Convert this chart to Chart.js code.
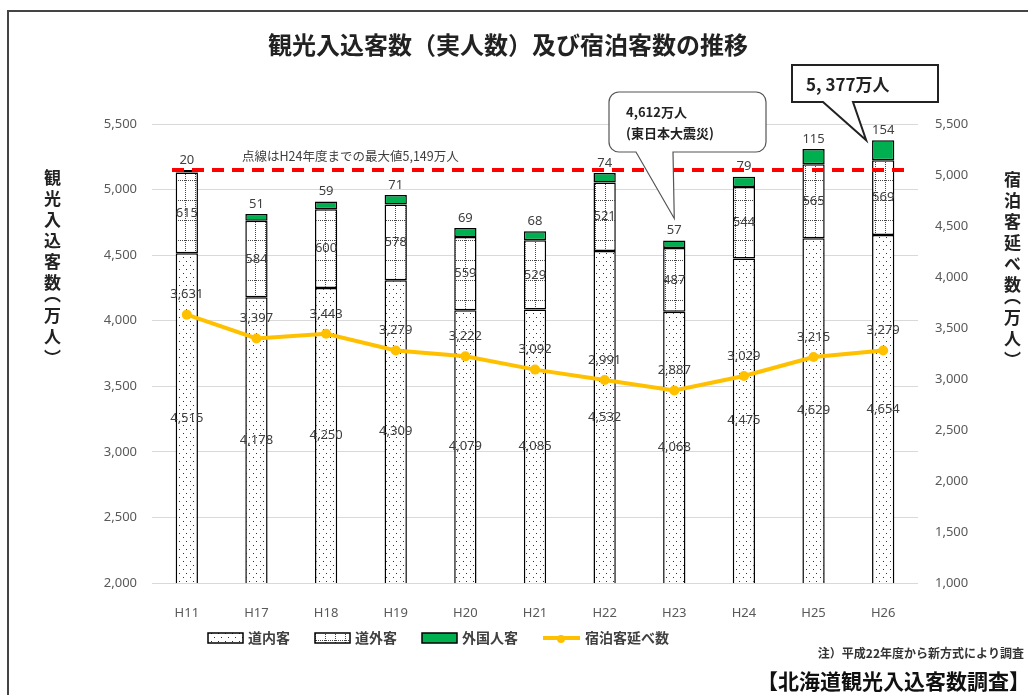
<!DOCTYPE html>
<html lang="ja">
<head>
<meta charset="UTF-8">
<title>観光入込客数（実人数）及び宿泊客数の推移</title>
<script src="https://cdn.jsdelivr.net/npm/chart.js"></script>
<style>
  * { margin: 0; padding: 0; box-sizing: border-box; }
  body { background: #fff; width: 1028px; height: 695px; overflow: hidden; font-family: 'Noto Sans CJK JP', sans-serif; }
  .wrap { position: relative; width: 1028px; height: 695px; }
  #chart { position: absolute; left: 0; top: 0; }
  .vtitle {
    position: absolute;
    writing-mode: vertical-rl;
    font-weight: bold;
    font-size: 17px;
    line-height: 1;
    color: #222;
    letter-spacing: 4px;
    font-feature-settings: "vhal";
  }
</style>
</head>
<body>
<div class="wrap">
  <canvas id="chart" width="1028" height="695"></canvas>
  <div class="vtitle" style="left:44px; top:169px;">観光入込客数（万人）</div>
  <div class="vtitle" style="left:1004px; top:171px;">宿泊客延べ数（万人）</div>
</div>

<script>
  // data (万人)
  const categories = ['H11', 'H17', 'H18', 'H19', 'H20', 'H21', 'H22', 'H23', 'H24', 'H25', 'H26'];
  const insideVisitors = [4515, 4178, 4250, 4309, 4079, 4085, 4532, 4068, 4475, 4629, 4654];
  const outsideVisitors = [615, 584, 600, 578, 559, 529, 521, 487, 544, 565, 569];
  const foreignVisitors = [20, 51, 59, 71, 69, 68, 74, 57, 79, 115, 154];
  const overnightStays = [3631, 3397, 3443, 3279, 3222, 3092, 2991, 2887, 3029, 3215, 3279];
  const leftAxis = [2000, 5500, 500];   // min, max, step
  const rightAxis = [1000, 5500, 500];
  const previousMax = 5149;

  const fmt = v => Number(v).toLocaleString('en-US');

  // fill patterns for the two visitor segments
  function dotPattern() {
    const c = document.createElement('canvas');
    c.width = 7; c.height = 8;
    const g = c.getContext('2d');
    g.fillStyle = '#fff'; g.fillRect(0, 0, 7, 8);
    g.fillStyle = '#333';
    g.fillRect(1, 1, 1, 1);
    g.fillRect(4, 5, 1, 1);
    return g.createPattern(c, 'repeat');
  }
  function gridPattern() {
    const c = document.createElement('canvas');
    c.width = 10; c.height = 20;
    const g = c.getContext('2d');
    g.fillStyle = '#fff'; g.fillRect(0, 0, 10, 20);
    g.fillStyle = '#444';
    for (let y = 0; y < 20; y += 2) g.fillRect(5, y, 1, 1);
    for (let x = 0; x < 10; x += 2) g.fillRect(x, 0, 1, 1);
    return g.createPattern(c, 'repeat');
  }
  const insideFill = dotPattern();
  const outsideFill = gridPattern();

  const yellow = '#FFC000';
  const green = '#00B050';
  const labelColor = '#404040';

  function roundedCallout(ctx, l, t, r, b, rad, tail) {
    ctx.beginPath();
    ctx.moveTo(l + rad, t);
    ctx.lineTo(r - rad, t);
    ctx.arcTo(r, t, r, t + rad, rad);
    ctx.lineTo(r, b - rad);
    ctx.arcTo(r, b, r - rad, b, rad);
    ctx.lineTo(tail[2], b);
    ctx.lineTo(tail[4], tail[5]);
    ctx.lineTo(tail[0], b);
    ctx.lineTo(l + rad, b);
    ctx.arcTo(l, b, l, b - rad, rad);
    ctx.lineTo(l, t + rad);
    ctx.arcTo(l, t, l + rad, t, rad);
    ctx.closePath();
  }

  const decorations = {
    id: 'decorations',
    beforeDraw(chart) {
      const ctx = chart.ctx;
      ctx.save();
      ctx.fillStyle = '#fff';
      ctx.fillRect(0, 0, chart.width, chart.height);
      ctx.strokeStyle = '#444';
      ctx.lineWidth = 2;
      ctx.strokeRect(8, 11, 1100, 800);
      ctx.fillStyle = '#222';
      ctx.font = "bold 24px 'Noto Sans CJK JP'";
      ctx.textAlign = 'center';
      ctx.textBaseline = 'middle';
      ctx.fillText('観光入込客数（実人数）及び宿泊客数の推移', 508, 45);
      ctx.restore();
    },
    afterDatasetsDraw(chart) {
      const ctx = chart.ctx;
      const y = chart.scales.y;
      const bottom = chart.chartArea.bottom;
      ctx.save();
      ctx.textAlign = 'center';
      ctx.textBaseline = 'middle';
      ctx.font = "13px 'Noto Sans'";
      ctx.fillStyle = labelColor;

      // segment labels, centred on the visible part of each segment
      [0, 1].forEach(i => {
        const meta = chart.getDatasetMeta(i);
        meta.data.forEach((bar, j) => {
          const v = chart.data.datasets[i].data[j];
          ctx.fillText(fmt(v), bar.x, (bar.y + Math.min(bar.base, bottom)) / 2);
        });
      });
      // foreign labels above bars
      chart.getDatasetMeta(2).data.forEach((bar, j) => {
        ctx.fillText(fmt(foreignVisitors[j]), bar.x, bar.y - 10);
      });
      // line labels
      chart.getDatasetMeta(3).data.forEach((pt, j) => {
        ctx.fillText(fmt(overnightStays[j]), pt.x, pt.y - 20);
      });

      // dashed line for previous maximum
      const py = y.getPixelForValue(previousMax);
      ctx.strokeStyle = '#FF0000';
      ctx.lineWidth = 4;
      ctx.setLineDash([12, 8]);
      ctx.beginPath();
      ctx.moveTo(172, py);
      ctx.lineTo(910, py);
      ctx.stroke();
      ctx.setLineDash([]);
      ctx.textAlign = 'left';
      ctx.font = "12.5px 'Noto Sans CJK JP'";
      ctx.fillStyle = '#404040';
      ctx.fillText('点線はH24年度までの最大値' + fmt(previousMax) + '万人', 242, py - 14);
      ctx.restore();
    },
    afterDraw(chart) {
      const ctx = chart.ctx;
      const meta = chart.getDatasetMeta(2);
      ctx.save();

      // callout: H23
      const b23 = meta.data[7];
      roundedCallout(ctx, 609, 92, 766, 152, 10, [636, 152, 673, 152, b23.x, b23.y - 22]);
      ctx.fillStyle = '#fff';
      ctx.fill();
      ctx.strokeStyle = '#555';
      ctx.lineWidth = 1.2;
      ctx.stroke();
      const total23 = insideVisitors[7] + outsideVisitors[7] + foreignVisitors[7];
      ctx.fillStyle = '#222';
      ctx.font = "bold 13px 'Noto Sans CJK JP'";
      ctx.textAlign = 'left';
      ctx.textBaseline = 'middle';
      ctx.fillText(fmt(total23) + '万人', 626, 112);
      ctx.fillText('(東日本大震災)', 626, 133);

      // callout: H26
      const b26 = meta.data[10];
      ctx.beginPath();
      ctx.moveTo(792, 65);
      ctx.lineTo(938, 65);
      ctx.lineTo(938, 102);
      ctx.lineTo(853, 102);
      ctx.lineTo(b26.x - 17, b26.y);
      ctx.lineTo(823, 102);
      ctx.lineTo(792, 102);
      ctx.closePath();
      ctx.fillStyle = '#fff';
      ctx.fill();
      ctx.strokeStyle = '#222';
      ctx.lineWidth = 2;
      ctx.stroke();
      const total26 = insideVisitors[10] + outsideVisitors[10] + foreignVisitors[10];
      ctx.fillStyle = '#222';
      ctx.font = "bold 17px 'Noto Sans CJK JP'";
      ctx.fillText(fmt(total26).replace(',', ', ') + '万人', 806, 85);

      // legend
      const ly = 638;
      ctx.font = "bold 14px 'Noto Sans CJK JP'";
      ctx.fillStyle = '#404040';
      const boxes = [[208, insideFill, '道内客'], [315, outsideFill, '道外客'], [422, green, '外国人客']];
      boxes.forEach(([x, fill, text]) => {
        ctx.fillStyle = fill;
        ctx.fillRect(x, ly - 5, 35, 10);
        ctx.strokeStyle = '#000';
        ctx.lineWidth = 1.5;
        ctx.strokeRect(x, ly - 5, 35, 10);
        ctx.fillStyle = '#404040';
        ctx.fillText(text, x + 40, ly);
      });
      ctx.strokeStyle = yellow;
      ctx.lineWidth = 4;
      ctx.beginPath();
      ctx.moveTo(543, ly);
      ctx.lineTo(580, ly);
      ctx.stroke();
      ctx.fillStyle = yellow;
      ctx.beginPath();
      ctx.arc(561, ly + 1, 4, 0, Math.PI * 2);
      ctx.fill();
      ctx.fillStyle = '#404040';
      ctx.fillText('宿泊客延べ数', 585, ly);

      // notes
      ctx.textAlign = 'right';
      ctx.font = "bold 12px 'Noto Sans CJK JP'";
      ctx.fillStyle = '#333';
      ctx.fillText('注）平成22年度から新方式により調査', 1024, 653);
      ctx.font = "bold 21px 'Noto Sans CJK JP'";
      ctx.fillStyle = '#111';
      ctx.fillText('【北海道観光入込客数調査】', 1030, 681);
      ctx.restore();
    }
  };

  const tickFont = { family: 'Noto Sans', size: 13 };
  const tickColor = '#595959';

  new Chart(document.getElementById('chart'), {
    data: {
      labels: categories,
      datasets: [
        { type: 'bar', label: '道内客', data: insideVisitors, backgroundColor: insideFill, borderColor: '#000', borderWidth: 1.5, borderSkipped: false, yAxisID: 'y', order: 1 },
        { type: 'bar', label: '道外客', data: outsideVisitors, backgroundColor: outsideFill, borderColor: '#000', borderWidth: 1.5, borderSkipped: false, yAxisID: 'y', order: 1 },
        { type: 'bar', label: '外国人客', data: foreignVisitors, backgroundColor: green, borderColor: '#000', borderWidth: 1.5, borderSkipped: false, yAxisID: 'y', order: 1 },
        { type: 'line', label: '宿泊客延べ数', data: overnightStays, borderColor: yellow, backgroundColor: yellow, borderWidth: 4, pointRadius: 5, pointHoverRadius: 5, pointBorderWidth: 0, tension: 0, yAxisID: 'y1', order: 0 }
      ]
    },
    options: {
      responsive: false,
      animation: false,
      devicePixelRatio: 1,
      layout: { padding: { top: 124, left: 0, right: 0, bottom: 0 } },
      plugins: { legend: { display: false }, tooltip: { enabled: false }, title: { display: false } },
      datasets: { bar: { categoryPercentage: 1, barPercentage: 0.32 } },
      scales: {
        x: {
          stacked: true,
          grid: { display: false },
          border: { display: false },
          ticks: { font: tickFont, color: tickColor, padding: 14 },
          afterFit: s => { s.height = 112; }
        },
        y: {
          stacked: true,
          position: 'left',
          min: leftAxis[0], max: leftAxis[1],
          ticks: { stepSize: leftAxis[2], font: tickFont, color: tickColor, padding: 15, callback: v => fmt(v) },
          grid: { color: '#d9d9d9', drawTicks: false },
          border: { display: false },
          afterFit: s => { s.width = 152; }
        },
        y1: {
          position: 'right',
          min: rightAxis[0], max: rightAxis[1],
          ticks: { stepSize: rightAxis[2], font: tickFont, color: tickColor, padding: 17, callback: v => fmt(v) },
          grid: { drawOnChartArea: false, drawTicks: false },
          border: { display: false },
          afterFit: s => { s.width = 110; }
        }
      }
    },
    plugins: [decorations]
  });
</script>
</body>
</html>
